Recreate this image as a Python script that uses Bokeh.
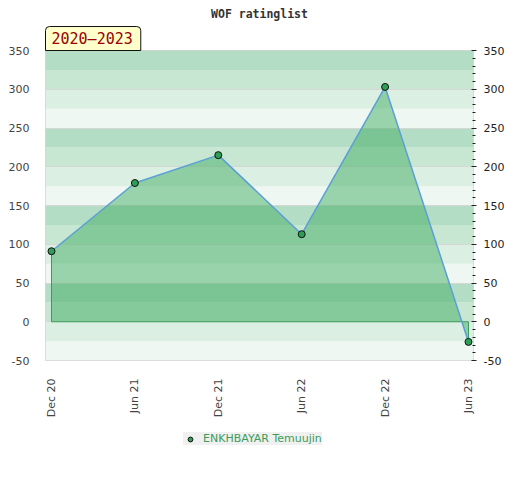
import math
from bokeh.plotting import figure
from bokeh.layouts import column
from bokeh.models import (Range1d, LinearAxis, FixedTicker, BoxAnnotation, Title,
                          Legend, LegendItem)
from bokeh.embed import file_html
from bokeh.resources import INLINE

# ---- data ----
dates = ["Dec 20", "Jun 21", "Dec 21", "Jun 22", "Dec 22", "Jun 23"]
ratings = [91, 179, 215, 113, 303, -26]
player = "ENKHBAYAR Temuujin"
chart_title = "WOF ratinglist"
period = "2020\u20132023"
y_ticks = [-50, 0, 50, 100, 150, 200, 250, 300, 350]
y_labels = {t: str(t) for t in y_ticks}

xs = list(range(len(dates)))

MARKER = dict(size=7, fill_color="#2f9e55", line_color="#111111", line_width=1)

p = figure(width=504, frame_width=428, frame_height=310,
           min_border_left=45, min_border_right=31, min_border_top=50, min_border_bottom=64,
           x_range=Range1d(-0.072, len(dates) - 1 + 0.06), y_range=Range1d(-50, 350),
           output_backend="svg", toolbar_location=None, tools="",
           background_fill_color="white", border_fill_color="white")
p.outline_line_color = "#d4d4d4"

# background bands
band_colors = ["#b3ddc4", "#c7e7d3", "#dbefe2", "#eef7f1"]
b = -50
while b < 350:
    k = int((325 - b) / 25) % 4
    p.add_layout(BoxAnnotation(bottom=b, top=b + 25, fill_color=band_colors[k], fill_alpha=1,
                               line_color=None, level="image"))
    b += 25

# grid
p.xgrid.visible = False
p.ygrid.ticker = FixedTicker(ticks=y_ticks)
p.ygrid.grid_line_color = "#d6d6d6"

# area
p.varea(x=xs, y1=[0] * len(xs), y2=ratings, fill_color="#3aaa5b", fill_alpha=0.47)
p.line(x=[xs[0], xs[0], xs[-1], xs[-1]], y=[ratings[0], 0, 0, ratings[-1]],
       line_color="#3a9d5a", line_width=1)
p.line(x=xs, y=ratings, line_color="#5b9fd6", line_width=1.5)
p.scatter(x=xs, y=ratings, **MARKER)

# left axis
ya = p.yaxis[0]
ya.ticker = FixedTicker(ticks=y_ticks)
ya.major_label_overrides = y_labels
ya.axis_line_color = None
ya.major_tick_line_color = None
ya.minor_tick_line_color = None
ya.major_label_standoff = 10
ya.major_label_text_font = "DejaVu Sans"
ya.major_label_text_font_size = "11px"
ya.major_label_text_color = "#444444"

# right axis
ra = LinearAxis(ticker=FixedTicker(ticks=y_ticks, minor_ticks=list(range(-50, 351, 10))))
ra.major_label_overrides = y_labels
ra.axis_line_color = None
ra.major_tick_in = 2
ra.major_tick_out = 3
ra.minor_tick_in = 1
ra.minor_tick_out = 2
ra.major_tick_line_color = "#222222"
ra.minor_tick_line_color = "#222222"
ra.major_label_standoff = 7
ra.major_label_text_font = "DejaVu Sans"
ra.major_label_text_font_size = "11px"
ra.major_label_text_color = "#222222"
p.add_layout(ra, "right")

# bottom axis
xa = p.xaxis[0]
xa.ticker = FixedTicker(ticks=xs)
xa.major_label_overrides = {i: d for i, d in zip(xs, dates)}
xa.major_label_orientation = math.pi / 2
xa.axis_line_color = None
xa.major_tick_line_color = None
xa.minor_tick_line_color = None
xa.major_label_standoff = 12
xa.major_label_text_font = "DejaVu Sans"
xa.major_label_text_font_size = "11px"
xa.major_label_text_color = "#444444"

# period tag (nearest the frame) and title
tag = Title(text=period, align="left", text_font="DejaVu Sans Mono", text_font_size="15px",
            text_font_style="normal", text_color="#990000", standoff=0,
            background_fill_color="#ffffcc", border_line_color="#111111",
            padding=dict(left=6, right=8, top=3, bottom=3),
            border_radius=dict(top_left=4, top_right=4, bottom_right=0, bottom_left=0))
p.add_layout(tag, "above")
ttl = Title(text=chart_title, align="center", text_font="DejaVu Sans Mono",
            text_font_size="11.5px", text_font_style="bold", text_color="#333333", standoff=8)
p.add_layout(ttl, "above")

# legend strip (its series is drawn out of view; only the legend shows)
p2 = figure(width=504, height=22, min_border=0,
            x_range=Range1d(-1000, -999), y_range=Range1d(-1000, -999),
            output_backend="svg", toolbar_location=None, tools="",
            background_fill_color="white", border_fill_color="white")
p2.outline_line_color = None
p2.axis.visible = False
p2.grid.visible = False
r2 = p2.scatter(x=xs, y=ratings, **MARKER)
legend = Legend(items=[LegendItem(label=player, renderers=[r2])], location=(138, 1),
                background_fill_color="#f0f0f0", background_fill_alpha=1,
                border_line_color=None, padding=4, margin=0, glyph_width=14, glyph_height=12,
                label_standoff=6, label_text_font="DejaVu Sans", label_text_font_size="11px",
                label_text_color="#3a9d5a", label_height=12)
p2.add_layout(legend)

open("out.html", "w").write(file_html(column(p, p2), INLINE))
